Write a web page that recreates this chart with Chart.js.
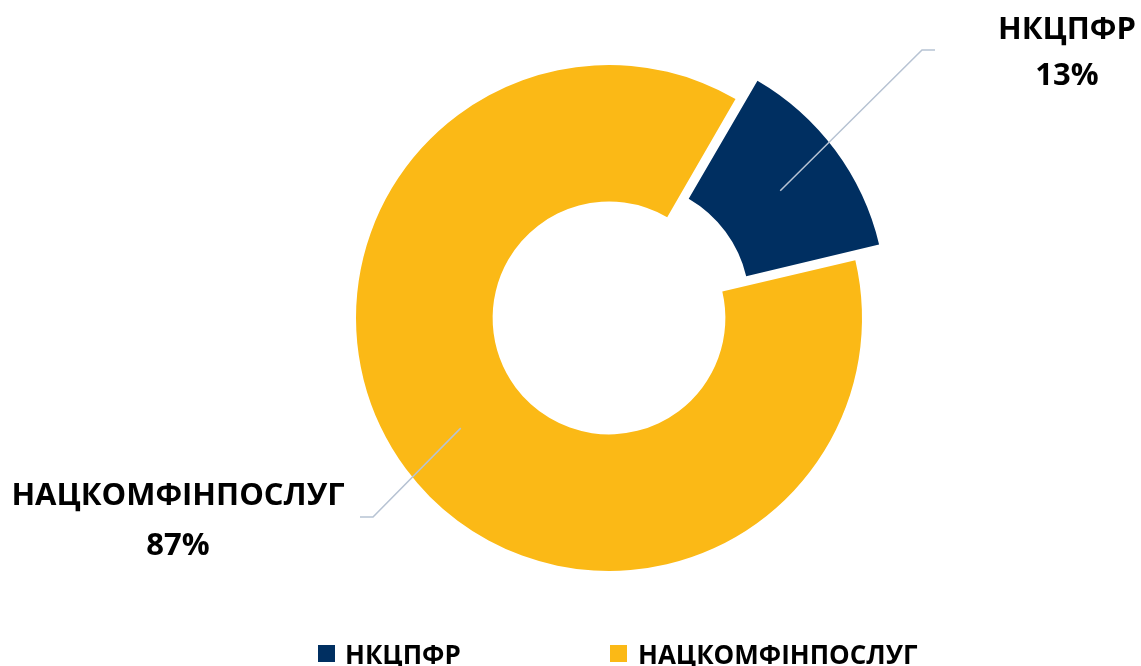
<!DOCTYPE html>
<html>
<head>
<meta charset="utf-8">
<script src="https://cdn.jsdelivr.net/npm/chart.js@4.4.1/dist/chart.umd.min.js"></script>
<style>
    html, body { margin: 0; padding: 0; background: #ffffff; }
    #wrap { position: relative; width: 1141px; height: 666px; }
</style>
</head>
<body>
<div id="wrap"><canvas id="shareChart" width="1141" height="666"></canvas></div>
<script>
// Data
const shareLabels = ['НКЦПФР', 'НАЦКОМФІНПОСЛУГ'];
const shareValues = [13, 87];
const shareColors = ['#002F61', '#FBB916'];
// Chart.js v4 moves an arc by offset / 4 (and grows small arcs a bit)
const shareOffsets = [90, 0];

// Label placement (elbow of leader line, end of line, text anchor)
const calloutLayout = [
    { elbow: [922, 50], end: [935, 50], textX: 1067, lines: [39, 85] },
    { elbow: [373, 517], end: [360, 517], textX: 178, lines: [505, 555] }
];
const legendLayout = [
    { box: [318, 645], textX: 345 },
    { box: [610, 645], textX: 638 }
];

const FONT = '"Open Sans", "DejaVu Sans", sans-serif';

// Leader lines + percentage labels drawn from the arc geometry
const calloutPlugin = {
    id: 'callouts',
    afterDatasetsDraw(chart) {
        const ctx = chart.ctx;
        const meta = chart.getDatasetMeta(0);
        const total = shareValues.reduce((a, b) => a + b, 0);
        meta.data.forEach((arc, i) => {
            const p = arc.getProps(['x', 'y', 'startAngle', 'endAngle', 'innerRadius', 'outerRadius', 'circumference']);
            const mid = (p.startAngle + p.endAngle) / 2;
            const shift = (arc.options.offset || 0) / 4;
            const grow = shift * (1 - Math.sin(Math.min(Math.PI, p.circumference || 0)));
            const r = (p.innerRadius + p.outerRadius) / 2 + grow;
            const sx = p.x + Math.cos(mid) * (shift + r);
            const sy = p.y + Math.sin(mid) * (shift + r);
            const lay = calloutLayout[i];

            ctx.save();
            ctx.strokeStyle = '#B7C3D3';
            ctx.lineWidth = 1.5;
            ctx.beginPath();
            ctx.moveTo(sx, sy);
            ctx.lineTo(lay.elbow[0], lay.elbow[1]);
            ctx.lineTo(lay.end[0], lay.end[1]);
            ctx.stroke();

            ctx.fillStyle = '#000000';
            ctx.font = 'bold 31px ' + FONT;
            ctx.textAlign = 'center';
            ctx.textBaseline = 'alphabetic';
            ctx.fillText(shareLabels[i], lay.textX, lay.lines[0]);
            ctx.fillText(Math.round(shareValues[i] / total * 100) + '%', lay.textX, lay.lines[1]);
            ctx.restore();
        });
    }
};

// Bottom legend
const legendPlugin = {
    id: 'bottomLegend',
    afterDraw(chart) {
        const ctx = chart.ctx;
        ctx.save();
        ctx.font = 'bold 26px ' + FONT;
        ctx.textBaseline = 'alphabetic';
        ctx.textAlign = 'left';
        shareLabels.forEach((lab, i) => {
            const lay = legendLayout[i];
            ctx.fillStyle = shareColors[i];
            ctx.fillRect(lay.box[0], lay.box[1], 17, 17);
            ctx.fillStyle = '#000000';
            ctx.fillText(lab, lay.textX, 664);
        });
        ctx.restore();
    }
};

const shareChart = new Chart(document.getElementById('shareChart').getContext('2d'), {
    type: 'doughnut',
    data: {
        labels: shareLabels,
        datasets: [{
            data: shareValues,
            backgroundColor: shareColors,
            offset: shareOffsets,
            borderWidth: 0
        }]
    },
    options: {
        responsive: false,
        animation: false,
        rotation: 30,
        cutout: '46%',
        layout: { padding: { left: 311, right: 234, top: 20, bottom: 50 } },
        plugins: {
            legend: { display: false },
            tooltip: { enabled: false }
        }
    },
    plugins: [calloutPlugin, legendPlugin]
});
</script>
</body>
</html>
